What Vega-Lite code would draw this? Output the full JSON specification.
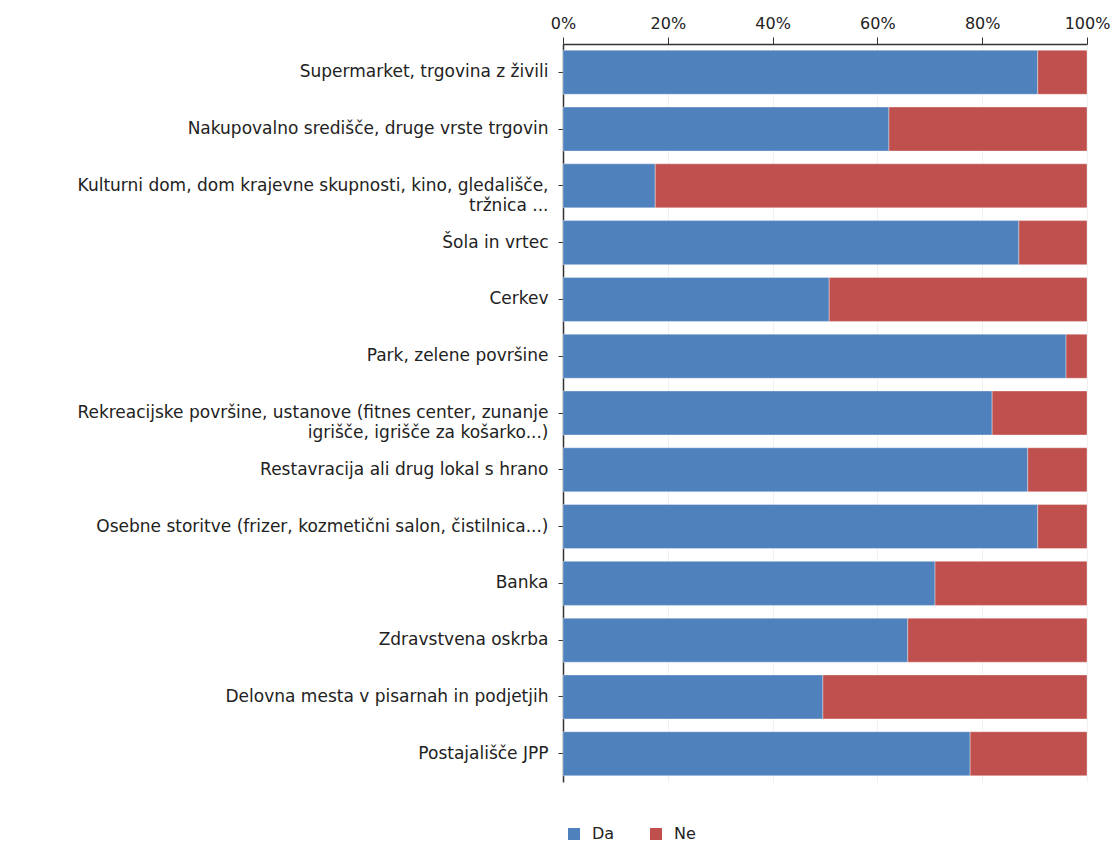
{
  "$schema": "https://vega.github.io/schema/vega-lite/v6.json",
  "width": 524,
  "height": 738,
  "autosize": {"type": "none"},
  "padding": {"left": 563, "top": 44, "right": 25, "bottom": 63},
  "background": "white",
  "config": {
    "view": {"stroke": null},
    "font": "DejaVu Sans"
  },
  "data": {
    "values": [
      {"kraj": "Supermarket, trgovina z živili", "odgovor": "Da", "delez": 90.6},
      {"kraj": "Supermarket, trgovina z živili", "odgovor": "Ne", "delez": 9.4},
      {"kraj": "Nakupovalno središče, druge vrste trgovin", "odgovor": "Da", "delez": 62.2},
      {"kraj": "Nakupovalno središče, druge vrste trgovin", "odgovor": "Ne", "delez": 37.8},
      {"kraj": "Kulturni dom, dom krajevne skupnosti, kino, gledališče,|tržnica ...", "odgovor": "Da", "delez": 17.6},
      {"kraj": "Kulturni dom, dom krajevne skupnosti, kino, gledališče,|tržnica ...", "odgovor": "Ne", "delez": 82.4},
      {"kraj": "Šola in vrtec", "odgovor": "Da", "delez": 87.0},
      {"kraj": "Šola in vrtec", "odgovor": "Ne", "delez": 13.0},
      {"kraj": "Cerkev", "odgovor": "Da", "delez": 50.8},
      {"kraj": "Cerkev", "odgovor": "Ne", "delez": 49.2},
      {"kraj": "Park, zelene površine", "odgovor": "Da", "delez": 96.0},
      {"kraj": "Park, zelene površine", "odgovor": "Ne", "delez": 4.0},
      {"kraj": "Rekreacijske površine, ustanove (fitnes center, zunanje|igrišče, igrišče za košarko...)", "odgovor": "Da", "delez": 81.9},
      {"kraj": "Rekreacijske površine, ustanove (fitnes center, zunanje|igrišče, igrišče za košarko...)", "odgovor": "Ne", "delez": 18.1},
      {"kraj": "Restavracija ali drug lokal s hrano", "odgovor": "Da", "delez": 88.7},
      {"kraj": "Restavracija ali drug lokal s hrano", "odgovor": "Ne", "delez": 11.3},
      {"kraj": "Osebne storitve (frizer, kozmetični salon, čistilnica...)", "odgovor": "Da", "delez": 90.6},
      {"kraj": "Osebne storitve (frizer, kozmetični salon, čistilnica...)", "odgovor": "Ne", "delez": 9.4},
      {"kraj": "Banka", "odgovor": "Da", "delez": 71.0},
      {"kraj": "Banka", "odgovor": "Ne", "delez": 29.0},
      {"kraj": "Zdravstvena oskrba", "odgovor": "Da", "delez": 65.8},
      {"kraj": "Zdravstvena oskrba", "odgovor": "Ne", "delez": 34.2},
      {"kraj": "Delovna mesta v pisarnah in podjetjih", "odgovor": "Da", "delez": 49.6},
      {"kraj": "Delovna mesta v pisarnah in podjetjih", "odgovor": "Ne", "delez": 50.4},
      {"kraj": "Postajališče JPP", "odgovor": "Da", "delez": 77.7},
      {"kraj": "Postajališče JPP", "odgovor": "Ne", "delez": 22.3}
    ]
  },
  "mark": {"type": "bar", "stroke": "white", "strokeOpacity": 0.35, "strokeWidth": 1},
  "encoding": {
    "y": {
      "field": "kraj",
      "type": "nominal",
      "sort": null,
      "title": null,
      "scale": {"paddingInner": 0.225, "paddingOuter": 0.11},
      "axis": {
        "labelExpr": "split(datum.value, '|')",
        "labelFont": "DejaVu Sans",
        "labelFontSize": 17,
        "labelLineHeight": 20,
        "labelColor": "#222222",
        "labelLimit": 600,
        "labelPadding": 10,
        "tickSize": 5,
        "tickColor": "#333333",
        "domainColor": "#333333",
        "domainWidth": 1.5
      }
    },
    "x": {
      "field": "delez",
      "type": "quantitative",
      "stack": "normalize",
      "title": null,
      "scale": {"domain": [0, 1], "nice": false},
      "axis": {
        "orient": "top",
        "format": ".0%",
        "values": [0, 0.2, 0.4, 0.6, 0.8, 1],
        "labelFont": "DejaVu Sans",
        "labelFontSize": 16,
        "labelColor": "#222222",
        "labelPadding": 6,
        "labelFlush": false,
        "tickSize": 7,
        "tickColor": "#333333",
        "domainColor": "#333333",
        "domainWidth": 1.5,
        "grid": true,
        "gridColor": "#f0f0f0",
        "gridWidth": 1
      }
    },
    "color": {
      "field": "odgovor",
      "type": "nominal",
      "title": null,
      "scale": {"domain": ["Da", "Ne"], "range": ["#4F81BD", "#C0504D"]},
      "legend": {
        "orient": "none",
        "legendX": 3,
        "legendY": 782,
        "direction": "horizontal",
        "symbolType": "square",
        "symbolSize": 144,
        "symbolStrokeWidth": 0,
        "labelFont": "DejaVu Sans",
        "labelFontSize": 16,
        "labelColor": "#222222",
        "labelOffset": 10,
        "columnPadding": 33
      }
    }
  }
}
